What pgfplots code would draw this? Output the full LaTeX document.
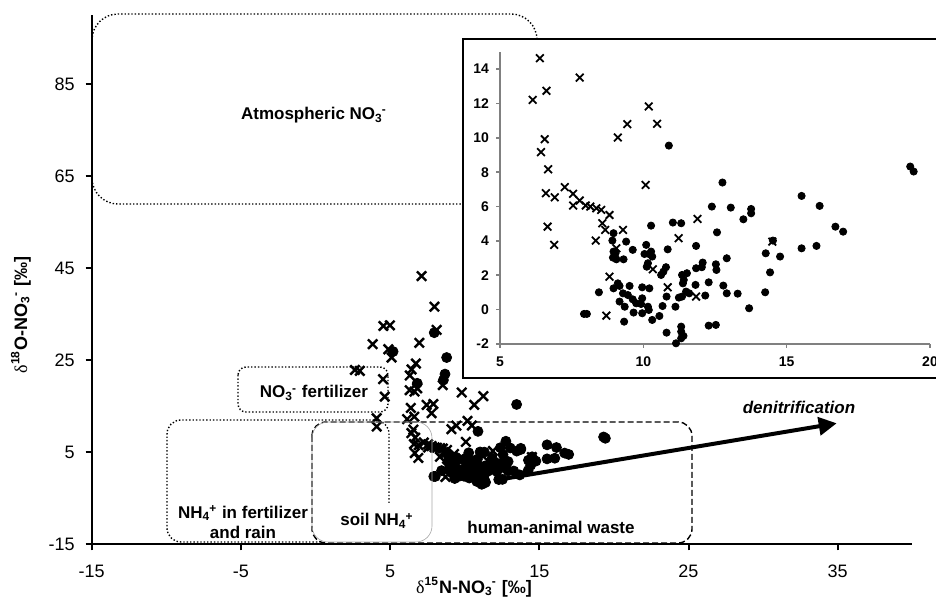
\documentclass[border=0pt]{standalone}
\usepackage{fontspec}
\setmainfont{Liberation Sans}
\newfontfamily\serif{Liberation Serif}
\usepackage{pgfplots}
\usepackage{pgfplotstable}
\pgfplotsset{compat=1.18}
\usetikzlibrary{arrows.meta}
\newcommand\ion[2]{\textsubscript{#1}\kern-0.05em\textsuperscript{#2}}

% samples shown in the inset (x = d15N, y = d18O)
\pgfplotstableread{
x y
6.39 14.64
6.14 12.21
6.62 12.74
7.78 13.51
6.56 9.92
6.43 9.17
6.68 8.17
6.60 6.78
6.91 6.54
6.66 4.83
6.89 3.77
7.26 7.13
7.55 6.74
7.55 6.06
7.78 6.35
7.99 6.06
8.15 6.00
8.36 5.90
8.53 5.81
8.82 5.51
8.57 5.03
8.67 4.64
8.34 4.02
9.29 4.64
9.11 10.02
9.44 10.80
10.19 11.83
10.48 10.82
10.08 7.26
9.06 3.57
8.82 1.92
8.71 -0.35
10.33 2.35
10.85 1.30
11.84 0.76
11.23 4.16
11.89 5.28
14.50 3.96
}\crossin

\pgfplotstableread{
x y
10.89 9.55
19.31 8.33
19.43 8.04
12.76 7.40
12.39 6.00
13.05 5.94
13.76 5.86
13.76 5.61
13.49 5.26
15.52 6.62
16.15 6.04
16.70 4.83
16.97 4.54
15.52 3.57
16.04 3.71
14.52 4.02
14.27 3.28
14.77 3.09
14.42 2.17
14.25 1.01
13.69 0.08
13.29 0.93
12.91 2.99
12.79 1.40
12.91 0.95
12.57 4.50
12.53 2.64
12.55 2.31
12.28 -0.93
12.53 -0.89
12.28 1.59
12.16 0.82
12.07 2.74
12.04 2.47
11.84 2.41
11.84 3.71
11.82 1.44
11.60 0.95
11.49 1.05
11.32 5.03
11.03 5.07
10.27 4.89
10.85 3.51
10.10 3.77
10.27 3.38
10.19 3.24
10.31 3.09
10.04 3.24
10.16 2.70
10.12 2.50
10.79 2.47
10.70 2.21
10.62 2.02
11.35 2.02
11.52 2.12
11.41 1.73
11.38 1.53
11.35 0.76
11.24 0.70
11.12 0.17
10.81 0.76
10.67 0.21
10.56 -0.37
10.81 -1.34
10.31 -0.60
11.14 -1.96
11.32 -0.99
11.32 -1.28
11.40 -1.53
11.32 -1.67
9.96 1.30
10.21 1.24
9.96 0.66
9.92 0.33
10.16 0.17
10.19 -0.02
9.96 -0.21
9.66 -0.17
9.75 0.37
9.63 0.60
9.46 0.85
9.29 0.95
9.17 1.38
9.52 1.38
9.11 1.53
8.96 1.24
9.17 0.47
9.35 0.17
9.33 -0.70
8.45 1.01
7.93 -0.25
8.03 -0.25
8.96 4.45
8.92 4.02
9.40 3.96
9.63 3.48
8.96 3.38
8.94 3.03
9.06 2.93
9.31 2.93
9.03 3.28
}\dotin

% samples outside the inset range
\pgfplotstableread{
x y
7.11 43.3
7.97 36.65
8.12 31.6
4.55 32.46
4.99 32.6
3.83 28.5
6.96 28.8
4.88 27.4
5.10 25.6
6.44 23.0
6.73 24.3
6.32 21.7
8.53 19.6
6.82 18.9
6.31 18.5
6.64 18.2
2.64 22.9
2.97 22.7
4.53 20.9
4.64 17.1
9.80 18.0
10.64 15.3
11.25 17.2
7.45 15.3
7.90 15.5
4.10 12.4
4.10 10.6
}\crossout

\pgfplotstableread{
x y
7.96 31.0
5.20 26.9
8.79 25.6
8.68 22.0
8.57 20.7
6.82 20.0
13.48 15.4
}\dotout

\begin{document}
\begin{tikzpicture}
\begin{axis}[
    at={(45.85pt,26.35pt)}, anchor=south west,
    scale only axis, width=410.3pt, height=264.5pt,
    xmin=-15, xmax=40, ymin=-15, ymax=100,
    axis lines=left,
    axis line style={-, line width=1pt},
    tick style={black, line width=1pt},
    major tick length=3pt, tick align=outside,
    xtick={-15,-5,5,15,25,35},
    xticklabels={-15,-5,5,15,25,35},
    ytick={-15,5,25,45,65,85},
    yticklabels={-15,5,25,45,65,85},
    tick label style={font=\fontsize{9}{10}\selectfont},
    xticklabel style={yshift=-4pt},
    yticklabel style={xshift=-2pt},
    clip=false,
  ]
\addplot[only marks, mark=x, mark size=3.3pt, line width=1.2pt] table {\crossin};
\addplot[only marks, mark=x, mark size=3.3pt, line width=1.2pt] table {\crossout};
\addplot[only marks, mark=*, mark size=2.5pt] table {\dotin};
\addplot[only marks, mark=*, mark size=2.5pt] table {\dotout};
\end{axis}

\begin{scope}[x=0.5pt, y=0.5pt, font=\fontsize{8.5}{10}\selectfont\bfseries]
  % source regions
  \draw[densely dotted, line width=0.7pt, rounded corners=13pt] (92,583) rectangle (537,393);
  \draw[densely dotted, line width=0.7pt, rounded corners=4pt] (238,230) rectangle (388,185);
  \draw[densely dotted, line width=0.7pt, rounded corners=7pt]
    (389,94) -- (389,177) -- (167,177) -- (167,55) -- (320,55);
  \draw[dash pattern=on 3pt off 1.5pt, line width=0.7pt, rounded corners=7pt] (312,175) rectangle (692,54);
  \draw[gray!70, line width=0.3pt, rounded corners=8pt] (312,175) rectangle (432,55);
  \draw[line width=2pt, -{Triangle[length=9pt, width=9pt]}] (496.7,117) -- (836.7,173.7);
  \node at (314,482) {Atmospheric NO\ion{3}{-}};
  \node at (314,204) {NO\ion{3}{-} fertilizer};
  \node[align=center, inner sep=0pt] at (243,75) {NH\ion{4}{+} in fertilizer\\and rain};
  \node[fill=white, inner sep=1pt] at (377,76) {soil NH\ion{4}{+}};
  \node at (551,70) {human-animal waste};
  \node at (799,190) {\itshape denitrification};
  \node[rotate=90, font=\fontsize{9}{10}\selectfont\bfseries] at (21,282)
    {{\serif\mdseries δ}\textsuperscript{18}O-NO\ion{3}{-} [‰]};
  \node[font=\fontsize{9}{10}\selectfont\bfseries] at (474,10)
    {{\serif\mdseries δ}\textsuperscript{15}N-NO\ion{3}{-} [‰]};
  % inset frame
  \draw[line width=1pt, fill=white] (462.5,558) rectangle (960,219);
\end{scope}

\begin{axis}[
    at={(250pt,126.5pt)}, anchor=south west,
    scale only axis, width=215pt, height=146pt,
    xmin=5, xmax=20, ymin=-2, ymax=15,
    axis lines=left,
    axis line style={-, gray, line width=0.8pt},
    tick style={gray, line width=0.8pt},
    major tick length=2pt, tick align=outside,
    xtick={5,10,15,20},
    xticklabels={5,10,15,20},
    ytick={-2,0,2,4,6,8,10,12,14},
    yticklabels={-2,0,2,4,6,8,10,12,14},
    tick label style={font=\fontsize{7}{8}\selectfont\bfseries, black},
    xticklabel style={yshift=-1pt},
    clip=false,
  ]
\addplot[only marks, mark=x, mark size=2.7pt, line width=0.9pt] table {\crossin};
\addplot[only marks, mark=*, mark size=1.8pt] table {\dotin};
\end{axis}
\pgfresetboundingbox
\useasboundingbox (0,0) rectangle (468pt,298.5pt);
\end{tikzpicture}
\end{document}
